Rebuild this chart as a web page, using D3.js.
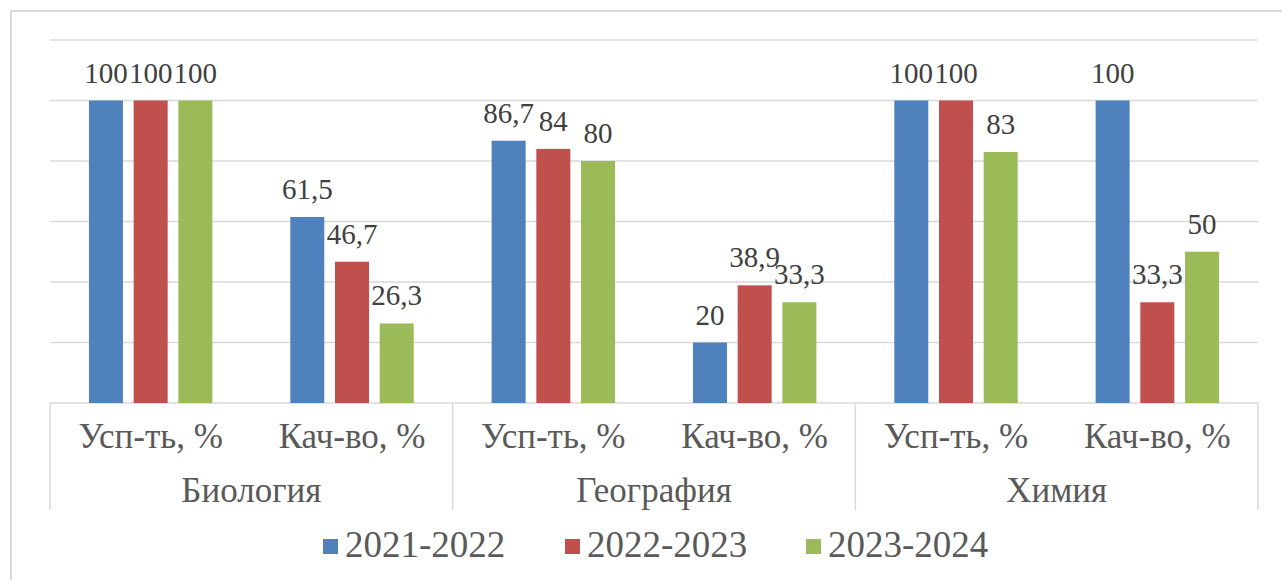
<!DOCTYPE html>
<html>
<head>
<meta charset="utf-8">
<script src="https://cdn.jsdelivr.net/npm/d3@7"></script>
<style>
  body { margin: 0; background: #fff; }
</style>
</head>
<body>
<svg width="1282" height="580"></svg>
<script>
// данные
const subjects = ["Биология", "География", "Химия"];
const measures = ["Усп-ть, %", "Кач-во, %"];
const years = ["2021-2022", "2022-2023", "2023-2024"];
const colors = ["#4F81BD", "#C0504D", "#9BBB59"];

// значения по годам: Био Усп, Био Кач, Гео Усп, Гео Кач, Хим Усп, Хим Кач
const v2021 = [100, 61.5, 86.7, 20, 100, 100];
const v2022 = [100, 46.7, 84, 38.9, 100, 33.3];
const v2023 = [100, 26.3, 80, 33.3, 83, 50];
const yTicks = [0, 20, 40, 60, 80, 100, 120];

const series = [v2021, v2022, v2023];
const cats = subjects.flatMap(s => measures.map(m => s + "|" + m));

const svg = d3.select("svg");
const width = +svg.attr("width"),
      height = +svg.attr("height");

const font = "Liberation Serif";
const plotL = 50, plotR = 1258, plotT = 40, plotB = 403;

// рамка
svg.append("rect")
    .attr("x", 11).attr("y", 11)
    .attr("width", width).attr("height", height)
    .attr("fill", "none").attr("stroke", "#D9D9D9").attr("stroke-width", 2);

const x = d3.scaleBand().domain(cats).range([plotL, plotR]);
const xGroup = d3.scaleBand().domain(subjects).range([plotL, plotR]);
const y = d3.scaleLinear().domain([0, 120]).range([plotB, plotT]);
const barW = 34, step = 44.7;

// сетка
svg.append("g")
    .selectAll("line")
    .data(yTicks)
    .enter().append("line")
    .attr("x1", plotL).attr("x2", plotR)
    .attr("y1", d => y(d)).attr("y2", d => y(d))
    .attr("stroke", "#D9D9D9").attr("stroke-width", 1.5);

// разделители групп
svg.append("g")
    .selectAll("line")
    .data(d3.range(subjects.length + 1))
    .enter().append("line")
    .attr("x1", i => plotL + i * xGroup.step()).attr("x2", i => plotL + i * xGroup.step())
    .attr("y1", plotB).attr("y2", 510)
    .attr("stroke", "#D9D9D9").attr("stroke-width", 1.5);

// столбцы
const barX = (c, k) => x(c) + x.bandwidth() / 2 + (k - 1) * step - barW / 2;

series.forEach((vals, k) => {
    const g = svg.append("g");
    g.selectAll("rect")
        .data(vals)
        .enter().append("rect")
        .attr("x", (d, i) => barX(cats[i], k))
        .attr("y", d => y(d))
        .attr("width", barW)
        .attr("height", d => plotB - y(d))
        .attr("fill", colors[k]);
    g.selectAll("text")
        .data(vals)
        .enter().append("text")
        .attr("x", (d, i) => barX(cats[i], k) + barW / 2)
        .attr("y", d => y(d) - 18)
        .attr("text-anchor", "middle")
        .attr("font-family", font)
        .attr("font-size", 29)
        .attr("fill", "#404040")
        .text(d => String(d).replace(".", ","));
});

// подписи категорий
svg.append("g")
    .selectAll("text")
    .data(cats)
    .enter().append("text")
    .attr("x", c => x(c) + x.bandwidth() / 2)
    .attr("y", 448)
    .attr("text-anchor", "middle")
    .attr("font-family", font)
    .attr("font-size", 35)
    .attr("fill", "#595959")
    .text(c => c.split("|")[1]);

svg.append("g")
    .selectAll("text")
    .data(subjects)
    .enter().append("text")
    .attr("x", s => xGroup(s) + xGroup.bandwidth() / 2)
    .attr("y", 502)
    .attr("text-anchor", "middle")
    .attr("font-family", font)
    .attr("font-size", 35)
    .attr("fill", "#595959")
    .text(s => s);

// легенда
const legendX = [323, 565, 806];
const legend = svg.append("g")
    .selectAll("g")
    .data(years)
    .enter().append("g")
    .attr("transform", (d, i) => `translate(${legendX[i]},0)`);
legend.append("rect")
    .attr("x", 0).attr("y", 539)
    .attr("width", 15).attr("height", 15)
    .attr("fill", (d, i) => colors[i]);
legend.append("text")
    .attr("x", 22).attr("y", 557)
    .attr("font-family", font)
    .attr("font-size", 37)
    .attr("fill", "#595959")
    .text(d => d);
</script>
</body>
</html>
